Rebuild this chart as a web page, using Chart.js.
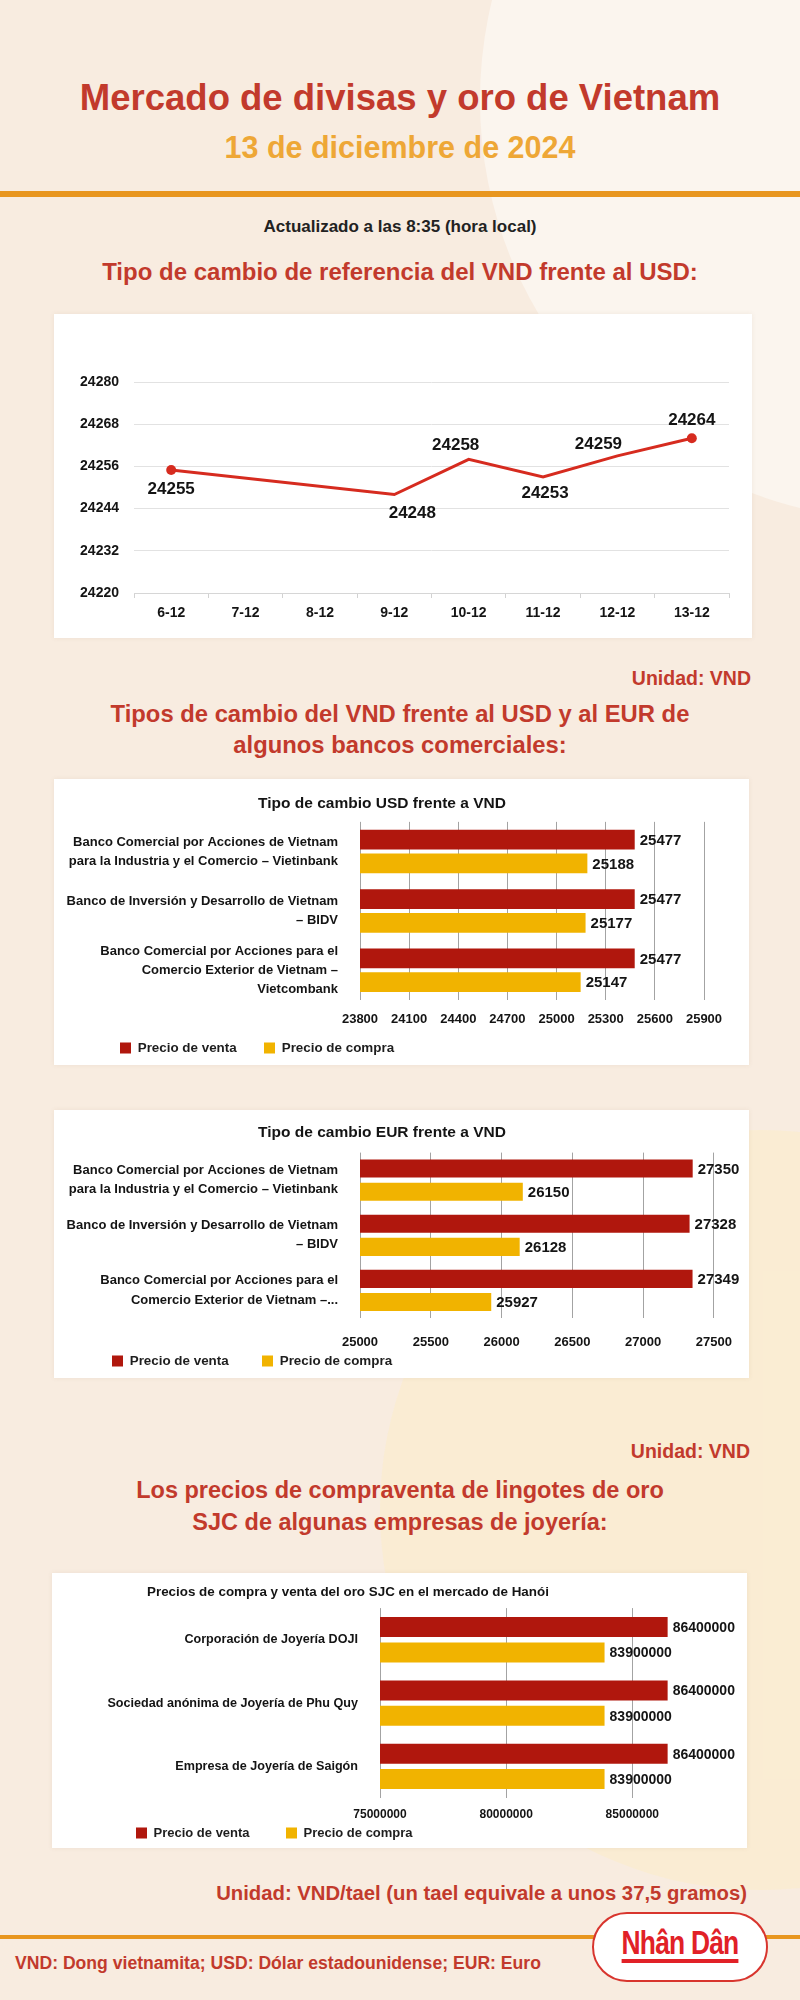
<!DOCTYPE html>
<html lang="es">
<head>
<meta charset="utf-8">
<title>Mercado de divisas y oro de Vietnam</title>
<script src="https://cdn.jsdelivr.net/npm/chart.js@4.4.1/dist/chart.umd.min.js"></script>
<style>
  * { margin: 0; padding: 0; box-sizing: border-box; }
  html, body { width: 800px; height: 2000px; }
  body {
    position: relative; overflow: hidden; background: #f8ece0;
    font-family: "Liberation Sans", Arial, sans-serif;
  }
  .blob { position: absolute; border-radius: 50%; }
  .line { position: absolute; left: 0; width: 800px; text-align: center; white-space: nowrap; font-weight: 700; }
  .right { text-align: right; left: auto; width: auto; }
  .red { color: #c23a2c; }
  .card { position: absolute; background: #fff; box-shadow: 0 0 5px rgba(120, 80, 40, 0.08); }
  .rule { position: absolute; left: 0; width: 800px; background: #e8961f; }
  #logo {
    position: absolute; left: 592px; top: 1912px; width: 176px; height: 70px;
    background: #fff; border: 2px solid #d8352e; border-radius: 35px;
    text-align: center;
  }
  #logo span {
    display: inline-block; margin-top: 12px; color: #e12127; font-size: 33px; font-weight: 700;
    line-height: 33px; border-bottom: 4px solid #e12127; transform: scaleX(0.8); letter-spacing: -1px;
  }
</style>
</head>
<body>
  <div class="blob" style="left:480px; top:-320px; width:840px; height:840px; background:#fbf5ee;"></div>
  <div class="blob" style="left:380px; top:1130px; width:760px; height:760px; background:rgba(252,238,196,0.45);"></div>

  <div class="line red" style="top:77px; font-size:36.5px; line-height:42px;">Mercado de divisas y oro de Vietnam</div>
  <div class="line" style="top:130px; font-size:30.5px; line-height:34px; color:#eea736;">13 de diciembre de 2024</div>
  <div class="rule" style="top:191px; height:6px;"></div>
  <div class="line" style="top:216px; font-size:17px; line-height:22px; color:#222;">Actualizado a las 8:35 (hora local)</div>
  <div class="line red" style="top:257px; font-size:24px; line-height:30px;">Tipo de cambio de referencia del VND frente al USD:</div>

  <div class="card" style="left:54px; top:314px; width:698px; height:324px;">
    <canvas id="refChart"></canvas>
  </div>

  <div class="line red right" style="top:666px; right:49px; font-size:19.5px; line-height:24px;">Unidad: VND</div>
  <div class="line red" style="top:698px; font-size:23.8px; line-height:31px;">Tipos de cambio del VND frente al USD y al EUR de<br>algunos bancos comerciales:</div>

  <div class="card" style="left:54px; top:779px; width:695px; height:286px;">
    <canvas id="usdChart"></canvas>
  </div>
  <div class="card" style="left:54px; top:1110px; width:695px; height:268px;">
    <canvas id="eurChart"></canvas>
  </div>

  <div class="line red right" style="top:1439px; right:50px; font-size:19.5px; line-height:24px;">Unidad: VND</div>
  <div class="line red" style="top:1474px; font-size:23.5px; line-height:32px;">Los precios de compraventa de lingotes de oro<br>SJC de algunas empresas de joyería:</div>

  <div class="card" style="left:52px; top:1573px; width:695px; height:275px;">
    <canvas id="goldChart"></canvas>
  </div>

  <div class="line red right" style="top:1880px; right:53px; font-size:20.3px; line-height:26px;">Unidad: VND/tael (un tael equivale a unos 37,5 gramos)</div>
  <div class="rule" style="top:1935px; height:4px;"></div>
  <div class="line red" style="top:1950px; left:15px; width:auto; text-align:left; font-size:17.6px; line-height:26px;">VND: Dong vietnamita; USD: Dólar estadounidense; EUR: Euro</div>
  <div id="logo"><span>Nhân Dân</span></div>

<script>
'use strict';

// ---- Data ----
const refDates = ['6-12', '7-12', '8-12', '9-12', '10-12', '11-12', '12-12', '13-12'];
const refRates = [24255, null, null, 24248, 24258, 24253, 24259, 24264];
const refTicks = [24220, 24232, 24244, 24256, 24268, 24280];

const seriesNames = ['Precio de venta', 'Precio de compra'];

const usdBanks = [
  ['Banco Comercial por Acciones de Vietnam', 'para la Industria y el Comercio – Vietinbank'],
  ['Banco de Inversión y Desarrollo de Vietnam', '– BIDV'],
  ['Banco Comercial por Acciones para el', 'Comercio Exterior de Vietnam –', 'Vietcombank']
];
const usdSell = [25477, 25477, 25477];
const usdBuy = [25188, 25177, 25147];
const usdTicks = [23800, 24100, 24400, 24700, 25000, 25300, 25600, 25900];

const eurBanks = [
  ['Banco Comercial por Acciones de Vietnam', 'para la Industria y el Comercio – Vietinbank'],
  ['Banco de Inversión y Desarrollo de Vietnam', '– BIDV'],
  ['Banco Comercial por Acciones para el', 'Comercio Exterior de Vietnam –...']
];
const eurSell = [27350, 27328, 27349];
const eurBuy = [26150, 26128, 25927];
const eurTicks = [25000, 25500, 26000, 26500, 27000, 27500];

const goldShops = ['Corporación de Joyería DOJI', 'Sociedad anónima de Joyería de Phu Quy', 'Empresa de Joyería de Saigón'];
const goldSell = [86400000, 86400000, 86400000];
const goldBuy = [83900000, 83900000, 83900000];
const goldTicks = [75000000, 80000000, 85000000];
const goldAxisMax = 88000000;

// ---- Styles ----
const SANS = '"Liberation Sans", Arial, sans-serif';
const LINE_RED = '#d62b1f';
const BAR_RED = '#b0170d';
const BAR_YELLOW = '#f1b300';
const INK = '#141414';

const plain = v => String(v);   // no thousands separators, like the original

// value labels next to bars / points
const valueLabels = {
  id: 'valueLabels',
  afterDatasetsDraw(chart, args, opts) {
    const ctx = chart.ctx;
    ctx.save();
    ctx.font = opts.font;
    ctx.fillStyle = opts.color || INK;
    ctx.textBaseline = 'middle';
    chart.data.datasets.forEach((ds, di) => {
      chart.getDatasetMeta(di).data.forEach((el, i) => {
        const v = ds.data[i];
        if (v == null) return;
        if (chart.config.type === 'bar') {
          ctx.textAlign = 'left';
          ctx.fillText(String(v), el.x + opts.gap, el.y + 1);
        } else {
          const off = opts.offsets[i];
          ctx.textAlign = 'center';
          ctx.fillText(String(v), el.x + off[0], el.y + off[1]);
        }
      });
    });
    ctx.restore();
  }
};

// move title / legend to where the original Excel charts put them
const placeBoxes = {
  id: 'placeBoxes',
  afterLayout(chart, args, opts) {
    const t = chart.titleBlock;
    if (t && opts.titleX != null) {
      const w = t.right - t.left;
      t.left = opts.titleAlign === 'start' ? opts.titleX : opts.titleX - w / 2;
      t.right = t.left + w;
    }
    const lg = chart.legend;
    if (lg && opts.legendX != null) {
      const pad = lg.options.labels.padding;
      const fs = lg.options.labels.font.size;
      lg.left = opts.legendX - pad;
      lg.right = chart.width;
      lg.width = lg.right - lg.left;
      lg.top = opts.legendY - pad - fs / 2;
      lg.bottom = chart.height;
      lg.height = lg.bottom - lg.top;
    }
  }
};

function textWidth(font, text) {
  const c = document.createElement('canvas').getContext('2d');
  c.font = font;
  return c.measureText(text).width;
}

// ---- Reference rate line chart ----
new Chart(document.getElementById('refChart'), {
  type: 'line',
  data: {
    labels: refDates,
    datasets: [{
      data: refRates,
      borderColor: LINE_RED,
      backgroundColor: LINE_RED,
      borderWidth: 3,
      tension: 0,
      spanGaps: true,
      pointRadius: refDates.map((d, i) => (i === 0 || i === refDates.length - 1) ? 5 : 0),
      pointBorderWidth: 0
    }]
  },
  options: {
    responsive: true,
    maintainAspectRatio: false,
    animation: false,
    layout: { padding: { top: 68, right: 23, bottom: 0, left: 20 } },
    plugins: {
      legend: { display: false },
      tooltip: { enabled: false },
      valueLabels: {
        font: 'bold 17px ' + SANS,
        offsets: [[0, 19], [0, 0], [0, 0], [18, 19], [-13, -14], [2, 16], [-19, -12], [0, -18]]
      }
    },
    scales: {
      x: {
        offset: true,
        grid: { offset: true, drawOnChartArea: false, drawTicks: true, tickLength: 5, color: '#d2d2d2' },
        border: { color: '#d6d6d6' },
        ticks: { padding: 7, color: INK, font: { family: SANS, size: 14, weight: 'bold' }, maxRotation: 0 },
        afterFit: a => { a.height = 45; }
      },
      y: {
        min: refTicks[0],
        max: refTicks[refTicks.length - 1],
        afterBuildTicks: a => { a.ticks = refTicks.map(v => ({ value: v })); },
        grid: { color: '#e2e2e2', drawTicks: false },
        border: { display: false },
        ticks: { padding: 15, color: INK, font: { family: SANS, size: 14, weight: 'bold' }, callback: plain },
        afterFit: a => { a.width = 60; }
      }
    }
  },
  plugins: [valueLabels]
});

// ---- Horizontal bar charts ----
function barChart(id, title, labels, sell, buy, ticks, axisMax, L) {
  const legendFont = 'bold ' + L.legendSize + 'px ' + SANS;
  // gap after first legend item so the second box lands where it should
  const gap = L.legendX2 - L.legendX - 11 - L.legendSize / 2 - textWidth(legendFont, seriesNames[0]);

  return new Chart(document.getElementById(id), {
    type: 'bar',
    data: {
      labels: labels,
      datasets: [
        { label: seriesNames[0], data: sell, backgroundColor: BAR_RED },
        { label: seriesNames[1], data: buy, backgroundColor: BAR_YELLOW }
      ]
    },
    options: {
      indexAxis: 'y',
      responsive: true,
      maintainAspectRatio: false,
      animation: false,
      datasets: { bar: { categoryPercentage: L.catPct, barPercentage: L.barPct } },
      layout: { padding: { top: L.padTop, right: L.padRight, bottom: 0, left: 10 } },
      plugins: {
        title: {
          display: true, text: title, align: L.titleAlign, color: INK,
          font: { family: SANS, size: L.titleSize, weight: 'bold', lineHeight: 1.2 },
          padding: { top: 0, bottom: L.titleGap }
        },
        legend: {
          position: 'bottom', align: 'start', maxHeight: L.legendH,
          labels: {
            boxWidth: 11, boxHeight: 11, padding: gap, color: '#1e1e1e',
            font: { family: SANS, size: L.legendSize, weight: 'bold' }
          }
        },
        tooltip: { enabled: false },
        valueLabels: { font: 'bold ' + L.valueSize + 'px ' + SANS, gap: 5 },
        placeBoxes: { titleX: L.titleX, titleAlign: L.titleAlign, legendX: L.legendX, legendY: L.legendY }
      },
      scales: {
        x: {
          min: ticks[0],
          max: axisMax,
          afterBuildTicks: a => { a.ticks = ticks.map(v => ({ value: v })); },
          grid: { color: '#a3a3a3', drawTicks: false },
          border: { display: false },
          ticks: {
            padding: L.tickPad, autoSkip: false, maxRotation: 0, color: INK, callback: plain,
            font: { family: SANS, size: L.tickSize, weight: 'bold' }
          },
          afterFit: a => { a.height = L.xAxisH; }
        },
        y: {
          grid: { display: false },
          border: { display: false },
          ticks: {
            padding: 14, autoSkip: false, color: INK,
            font: { family: SANS, size: L.catSize, weight: 'bold', lineHeight: L.catLine }
          },
          afterFit: a => { a.width = L.yAxisW; }
        }
      }
    },
    plugins: [valueLabels, placeBoxes]
  });
}

barChart('usdChart', 'Tipo de cambio USD frente a VND', usdBanks, usdSell, usdBuy, usdTicks,
  usdTicks[usdTicks.length - 1], {
    catPct: 0.8, barPct: 0.83, padTop: 13, padRight: 45, titleSize: 15.5, titleGap: 9,
    titleAlign: 'center', titleX: 328, legendH: 30, legendSize: 13.4, legendX: 66, legendX2: 210,
    legendY: 269, valueSize: 15, tickPad: 12, tickSize: 13, xAxisH: 35, catSize: 13, catLine: 1.48, yAxisW: 296
  });

barChart('eurChart', 'Tipo de cambio EUR frente a VND', eurBanks, eurSell, eurBuy, eurTicks,
  eurTicks[eurTicks.length - 1], {
    catPct: 0.84, barPct: 0.78, padTop: 13, padRight: 29, titleSize: 15.5, titleGap: 11,
    titleAlign: 'center', titleX: 328, legendH: 28, legendSize: 13.4, legendX: 58, legendX2: 208,
    legendY: 251, valueSize: 15, tickPad: 17, tickSize: 13, xAxisH: 32, catSize: 13, catLine: 1.48, yAxisW: 296
  });

barChart('goldChart', 'Precios de compra y venta del oro SJC en el mercado de Hanói', goldShops, goldSell, goldBuy,
  goldTicks, goldAxisMax, {
    catPct: 0.8, barPct: 0.79, padTop: 11, padRight: 39, titleSize: 13.4, titleGap: 8,
    titleAlign: 'start', titleX: 95, legendH: 22, legendSize: 13, legendX: 84, legendX2: 234,
    legendY: 260, valueSize: 14, tickPad: 9, tickSize: 12, xAxisH: 28, catSize: 12.6, catLine: 1.2, yAxisW: 318
  });
</script>
</body>
</html>
